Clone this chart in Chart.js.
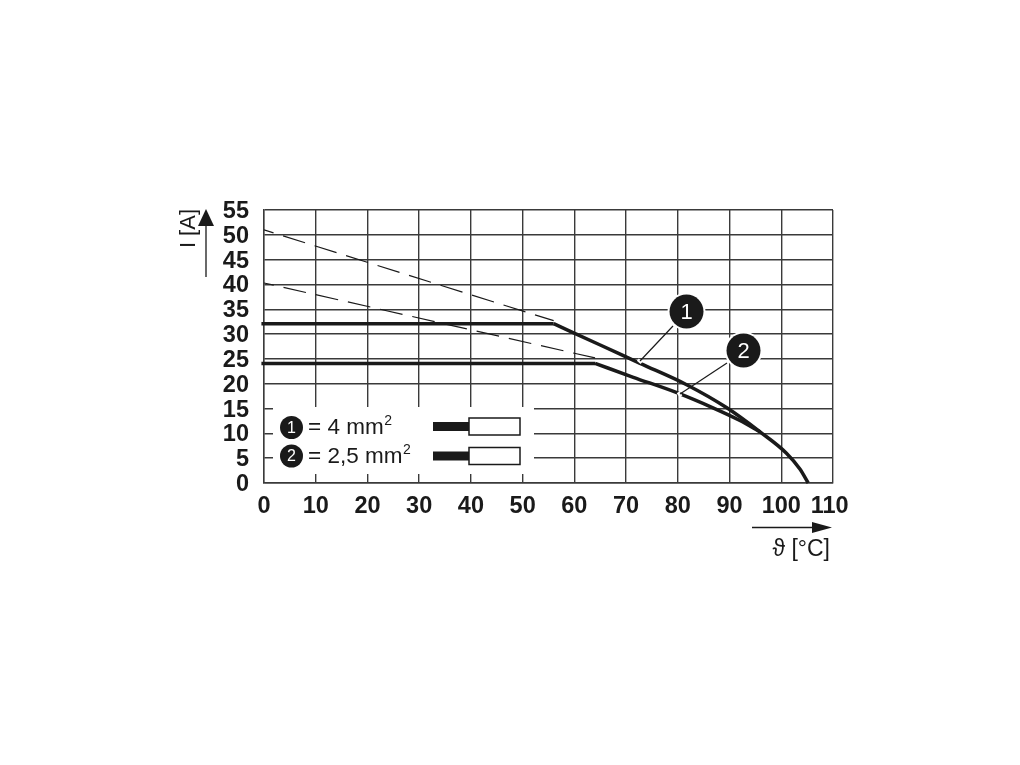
<!DOCTYPE html>
<html lang="en">
<head>
<meta charset="UTF-8">
<title>Derating curve</title>
<script src="https://cdn.jsdelivr.net/npm/chart.js"></script>
<style>
    body { margin: 0; background: #fff; }
    canvas { display: block; }
</style>
</head>
<body>
<canvas id="chart" width="1020" height="765"></canvas>
<script>
// values
const flatTemp4 = [-0.5, 56];
const flatCurrent4 = [32.1, 32.1];
const flatTemp25 = [-0.5, 64];
const flatCurrent25 = [24.1, 24.1];
const temp4 = [56, 65, 72.7, 81.7, 89.4, 95.9, 101, 103.6, 105.2];
const current4 = [32.1, 27.8, 24.1, 19.8, 15.2, 10.3, 6, 2.8, 0];
const temp25 = [64, 71.4, 79.8, 86.9, 92, 95.9];
const current25 = [24.1, 21.3, 18.2, 15.1, 12.6, 10.3];
const dashTemp4 = [0, 56];
const dashCurrent4 = [51, 32.7];
const dashTemp25 = [0, 64];
const dashCurrent25 = [40.3, 25.2];

const xMax = 110;
const yMax = 55;
const xStep = 10;
const yStep = 5;

const font = '"Liberation Sans", Arial, sans-serif';
const black = '#1a1a1a';

function toPoints(xs, ys) {
    return xs.map((x, i) => ({ x: x, y: ys[i] }));
}

function badge(ctx, x, y, r, ring, label, size) {
    ctx.fillStyle = '#fff';
    ctx.beginPath();
    ctx.arc(x, y, r + ring, 0, Math.PI * 2);
    ctx.fill();
    ctx.fillStyle = black;
    ctx.beginPath();
    ctx.arc(x, y, r, 0, Math.PI * 2);
    ctx.fill();
    ctx.fillStyle = '#fff';
    ctx.font = size + 'px ' + font;
    ctx.textAlign = 'center';
    ctx.textBaseline = 'middle';
    ctx.fillText(label, x, y + 1);
}

function leader(ctx, x1, y1, x2, y2) {
    ctx.strokeStyle = '#fff';
    ctx.lineWidth = 5;
    ctx.beginPath();
    ctx.moveTo(x2 + (x1 - x2) * 0.02, y2 + (y1 - y2) * 0.02);
    ctx.lineTo(x2 - (x1 - x2) * 0.04, y2 - (y1 - y2) * 0.04);
    ctx.stroke();
    ctx.strokeStyle = black;
    ctx.lineWidth = 1.2;
    ctx.beginPath();
    ctx.moveTo(x1, y1);
    ctx.lineTo(x2, y2);
    ctx.stroke();
}

function connector(ctx, y) {
    ctx.fillStyle = black;
    ctx.fillRect(433, y + 4, 37, 9);
    ctx.fillStyle = '#fff';
    ctx.strokeStyle = black;
    ctx.lineWidth = 1.5;
    ctx.fillRect(469, y, 51, 17);
    ctx.strokeRect(469, y, 51, 17);
}

// text with a raised small 2 behind it
function squared(ctx, text, x, y) {
    ctx.fillStyle = black;
    ctx.textAlign = 'left';
    ctx.textBaseline = 'alphabetic';
    ctx.font = '22.5px ' + font;
    ctx.fillText(text, x, y);
    const w = ctx.measureText(text).width;
    ctx.font = '14px ' + font;
    ctx.fillText('2', x + w + 0.5, y - 9);
}

// arrows, axis names, callouts and the little legend box
const extras = {
    id: 'extras',
    afterDatasetsDraw(chart) {
        const ctx = chart.ctx;
        ctx.save();

        leader(ctx, 673, 326, 640, 361);
        leader(ctx, 727, 363, 680, 394);
        badge(ctx, 686.5, 311.5, 17, 2, '1', 22);
        badge(ctx, 743.5, 350.5, 17, 2, '2', 22);

        // legend
        ctx.fillStyle = '#fff';
        ctx.fillRect(273, 407, 261, 67);
        badge(ctx, 291.5, 427.5, 11.5, 0, '1', 16);
        badge(ctx, 291.5, 456, 11.5, 0, '2', 16);
        squared(ctx, '= 4 mm', 308, 434);
        squared(ctx, '= 2,5 mm', 308, 463);
        connector(ctx, 418);
        connector(ctx, 447.5);

        // y arrow
        ctx.strokeStyle = black;
        ctx.lineWidth = 1.3;
        ctx.beginPath();
        ctx.moveTo(206, 277);
        ctx.lineTo(206, 222);
        ctx.stroke();
        ctx.fillStyle = black;
        ctx.beginPath();
        ctx.moveTo(206, 209);
        ctx.lineTo(214, 226);
        ctx.lineTo(198, 226);
        ctx.closePath();
        ctx.fill();

        // x arrow
        ctx.beginPath();
        ctx.moveTo(752, 527.5);
        ctx.lineTo(820, 527.5);
        ctx.stroke();
        ctx.beginPath();
        ctx.moveTo(832, 527.5);
        ctx.lineTo(812, 522);
        ctx.lineTo(812, 533);
        ctx.closePath();
        ctx.fill();

        // axis names
        ctx.font = '23px ' + font;
        ctx.textAlign = 'right';
        ctx.textBaseline = 'alphabetic';
        ctx.fillText('ϑ [°C]', 830, 556);
        ctx.font = '22px ' + font;
        ctx.save();
        ctx.translate(195, 209);
        ctx.rotate(-Math.PI / 2);
        ctx.fillText('I [A]', 0, 0);
        ctx.restore();

        ctx.restore();
    }
};

new Chart(document.getElementById('chart'), {
    type: 'line',
    data: {
        datasets: [
            { data: toPoints(dashTemp4, dashCurrent4), borderColor: black, borderWidth: 1.2, borderDash: [23, 10], borderDashOffset: 13 },
            { data: toPoints(dashTemp25, dashCurrent25), borderColor: black, borderWidth: 1.2, borderDash: [23, 10], borderDashOffset: 13 },
            { data: toPoints(flatTemp4, flatCurrent4), borderColor: black, borderWidth: 3.5, clip: false },
            { data: toPoints(flatTemp25, flatCurrent25), borderColor: black, borderWidth: 3.5, clip: false },
            { data: toPoints(temp4, current4), borderColor: black, borderWidth: 3.5, cubicInterpolationMode: 'monotone', clip: false },
            { data: toPoints(temp25, current25), borderColor: black, borderWidth: 3.5, cubicInterpolationMode: 'monotone', clip: false }
        ]
    },
    options: {
        responsive: false,
        animation: false,
        events: [],
        layout: { padding: { top: 210, right: 187, left: 0, bottom: 0 } },
        elements: { point: { radius: 0 }, line: { tension: 0, borderCapStyle: 'butt', borderJoinStyle: 'round' } },
        plugins: { legend: { display: false }, tooltip: { enabled: false } },
        scales: {
            x: {
                type: 'linear',
                min: 0,
                max: xMax,
                afterFit(scale) { scale.height = 282; },
                border: { color: '#3a3a3a', width: 1.4 },
                grid: { color: '#3a3a3a', lineWidth: 1.4, drawTicks: false },
                ticks: {
                    stepSize: xStep,
                    padding: 9,
                    color: black,
                    maxRotation: 0,
                    autoSkip: false,
                    font: { family: font, size: 23.5, weight: 'bold' },
                    // the last label sits a little left of its grid line
                    callback: v => (v === xMax ? v + ' ' : v)
                }
            },
            y: {
                min: 0,
                max: yMax,
                afterFit(scale) { scale.width = 264; },
                border: { color: '#3a3a3a', width: 1.4 },
                grid: { color: '#3a3a3a', lineWidth: 1.4, drawTicks: false },
                ticks: {
                    stepSize: yStep,
                    padding: 15,
                    labelOffset: 1.5,
                    color: black,
                    autoSkip: false,
                    font: { family: font, size: 23.5, weight: 'bold' }
                }
            }
        }
    },
    plugins: [extras]
});
</script>
</body>
</html>
